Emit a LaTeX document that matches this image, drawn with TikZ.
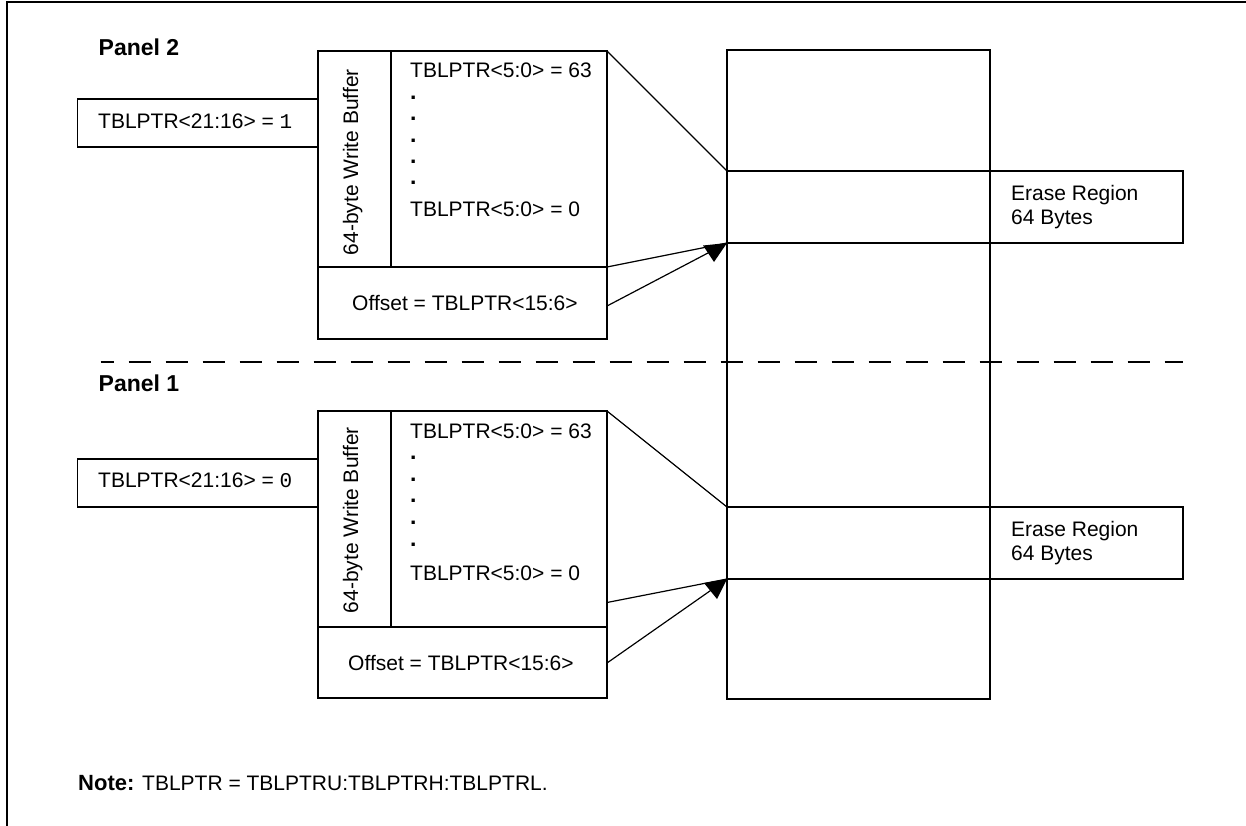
\documentclass[tikz,border=0pt]{standalone}
\usepackage{fontspec}
\setmainfont{Liberation Sans}
\newfontfamily\cour{Liberation Mono}
\tikzset{
  x=1pt,y=-1pt,
  thick line/.style={line width=1.7pt},
  thin line/.style={line width=1.2pt},
  label text/.style={font=\fontsize{21}{24}\selectfont,inner sep=0pt,anchor=base west},
  head/.style={font=\fontsize{23}{26}\selectfont\bfseries,inner sep=0pt,anchor=base west},
  dot text/.style={font=\fontsize{23}{26}\selectfont\bfseries,inner sep=0pt,anchor=base west},
}
\begin{document}
\begin{tikzpicture}
\useasboundingbox (0,0) rectangle (1246,826);
% frame
\draw[thick line] (6.7,826) -- (6.7,1.7) -- (1246,1.7);
% memory column
\coordinate (memTL) at (727,50);
\coordinate (memBR) at (990,699);
\draw[thick line] (memTL) rectangle (memBR);
% Panel 2
\node[head] (p2) at (98.5,56) {Panel 2};
\coordinate (b2TL) at (318,51); \coordinate (b2TR) at (607,51);
\coordinate (b2BL) at (318,339); \coordinate (b2BR) at (607,339);
\coordinate (b2ML) at (318,267); \coordinate (b2MR) at (607,267);
\coordinate (b2DT) at (391,51); \coordinate (b2DB) at (391,267);
\draw[thick line] (b2TL) rectangle (b2BR);
\draw[thick line] (b2ML) -- (b2MR);
\draw[thick line] (b2DT) -- (b2DB);
\draw[thick line] (318,99) -- (77.5,99) -- (77.5,146.7) -- (318,146.7);
\node[label text] (a2) at (98,128.7) {TBLPTR<21:16> = {\cour 1}};
\node[label text,rotate=90] (w2) at (358,255.5) {64-byte Write Buffer};
\node[label text] (t2a) at (410,78) {TBLPTR<5:0> = 63};
\foreach \yy in {100,121,142.5,164,185} \node[dot text] at (410,\yy) {.};
\node[label text] (t2b) at (410,216.7) {TBLPTR<5:0> = 0};
\node[label text] (o2) at (352,310) {Offset = TBLPTR<15:6>};
\coordinate (r2a) at (727,171); \coordinate (r2b) at (727,243); \coordinate (r2c) at (1183,171); \coordinate (r2d) at (1183,243);
\draw[thick line] (r2a) -- (r2c) -- (r2d) -- (r2b);
\node[label text] (e2a) at (1011,200.5) {Erase Region};
\node[label text] (e2b) at (1011,225) {64 Bytes};
\draw[thin line] (b2TR) -- (r2a);
\draw[thin line] (b2MR) -- (r2b);
\coordinate (s2) at (607,306);
\draw[thin line] (s2) -- (r2b);
\fill (r2b) -- (703,245.5) -- (714,262) -- cycle;
% divider
\coordinate (dL) at (100.5,362.3); \coordinate (dR) at (1183,362.3);
\draw[thick line,dash pattern=on 22pt off 15pt,dash phase=9pt] (dL) -- (dR);
% Panel 1
\node[head] (p1) at (98.5,391.7) {Panel 1};
\coordinate (b1TL) at (318,411); \coordinate (b1TR) at (607,411);
\coordinate (b1BL) at (318,698); \coordinate (b1BR) at (607,698);
\coordinate (b1ML) at (318,627); \coordinate (b1MR) at (607,627);
\coordinate (b1DT) at (391,411); \coordinate (b1DB) at (391,627);
\draw[thick line] (b1TL) rectangle (b1BR);
\draw[thick line] (b1ML) -- (b1MR);
\draw[thick line] (b1DT) -- (b1DB);
\draw[thick line] (318,459) -- (77.5,459) -- (77.5,506.7) -- (318,506.7);
\node[label text] (a1) at (98,487.7) {TBLPTR<21:16> = {\cour 0}};
\node[label text,rotate=90] (w1) at (358,613.5) {64-byte Write Buffer};
\node[label text] (t1a) at (410,438) {TBLPTR<5:0> = 63};
\foreach \yy in {459.5,481,502.5,524,546} \node[dot text] at (410,\yy) {.};
\node[label text] (t1b) at (410,580) {TBLPTR<5:0> = 0};
\node[label text] (o1) at (348,670.7) {Offset = TBLPTR<15:6>};
\coordinate (r1a) at (727,507); \coordinate (r1b) at (727,579); \coordinate (r1c) at (1183,507); \coordinate (r1d) at (1183,579);
\draw[thick line] (r1a) -- (r1c) -- (r1d) -- (r1b);
\node[label text] (e1a) at (1011,536.7) {Erase Region};
\node[label text] (e1b) at (1011,560.7) {64 Bytes};
\draw[thin line] (b1TR) -- (r1a);
\coordinate (s1a) at (607,602.5); \coordinate (s1b) at (607,663);
\draw[thin line] (s1a) -- (r1b);
\draw[thin line] (s1b) -- (r1b);
\fill (r1b) -- (704,583) -- (717,599) -- cycle;
% note
\node[label text] (note) at (78,790.7) {{\fontsize{22}{26}\selectfont\bfseries Note:} TBLPTR = TBLPTRU:TBLPTRH:TBLPTRL.};
\end{tikzpicture}
\end{document}
